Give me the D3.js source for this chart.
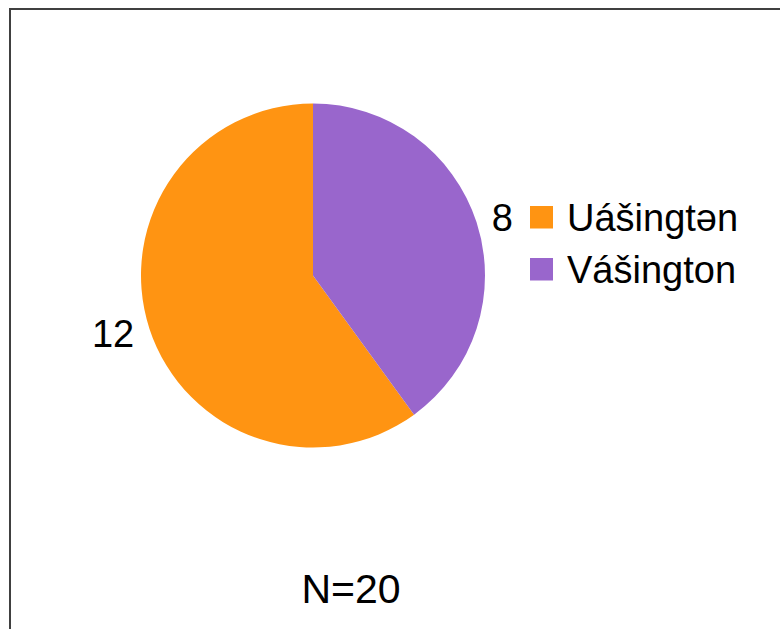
<!DOCTYPE html>
<html>
<head>
<meta charset="utf-8">
<script src="https://cdn.jsdelivr.net/npm/d3@7"></script>
<style>
  body { margin: 0; background: #fff; }
  svg { display: block; font-family: "Liberation Sans", Arial, sans-serif; }
</style>
</head>
<body>
<div id="chart"></div>
<script>
// data
const categories = ['Uášingtən', 'Vášington'];
const counts = [12, 8];
const colors = ['#ff9412', '#9966cc'];
const footnote = 'N=20';

const width = 780, height = 629;

const svg = d3.select('#chart').append('svg')
    .attr('width', width)
    .attr('height', height);

// frame (runs off the right and bottom edge)
svg.append('rect')
    .attr('x', 10)
    .attr('y', 9)
    .attr('width', 800)
    .attr('height', 700)
    .attr('fill', 'none')
    .attr('stroke', '#404040')
    .attr('stroke-width', 2);

const cx = 313, cy = 275.5, radius = 172;

// purple slice starts at 12 o'clock, orange fills the rest
const pie = d3.pie()
    .sort(null)
    .startAngle(2 * Math.PI)
    .endAngle(0)
    .value(d => d);

const arcs = pie(counts);
const arc = d3.arc().innerRadius(0).outerRadius(radius);
const labelArc = d3.arc().innerRadius(188).outerRadius(188);

const g = svg.append('g').attr('transform', 'translate(' + cx + ',' + cy + ')');

g.selectAll('path')
    .data(arcs)
    .enter().append('path')
    .attr('d', arc)
    .attr('fill', (d, i) => colors[i]);

// value labels outside the slices
g.selectAll('.value-label')
    .data(arcs)
    .enter().append('text')
    .attr('class', 'value-label')
    .attr('transform', d => 'translate(' + labelArc.centroid(d) + ')')
    .attr('text-anchor', d => labelArc.centroid(d)[0] < 0 ? 'end' : 'start')
    .attr('dy', '0.36em')
    .attr('font-size', 38)
    .attr('fill', '#000')
    .text(d => d.data);

// legend
const legend = svg.append('g').attr('transform', 'translate(530,206)');
const rows = legend.selectAll('g')
    .data(categories)
    .enter().append('g')
    .attr('transform', (d, i) => 'translate(0,' + (i * 52) + ')');

rows.append('rect')
    .attr('width', 23)
    .attr('height', 22.5)
    .attr('fill', (d, i) => colors[i]);

rows.append('text')
    .attr('x', 37)
    .attr('y', 25)
    .attr('font-size', 38)
    .attr('fill', '#000')
    .text(d => d);

// sample size
svg.append('text')
    .attr('x', 351)
    .attr('y', 603)
    .attr('text-anchor', 'middle')
    .attr('font-size', 41)
    .attr('fill', '#000')
    .text(footnote);
</script>
</body>
</html>
